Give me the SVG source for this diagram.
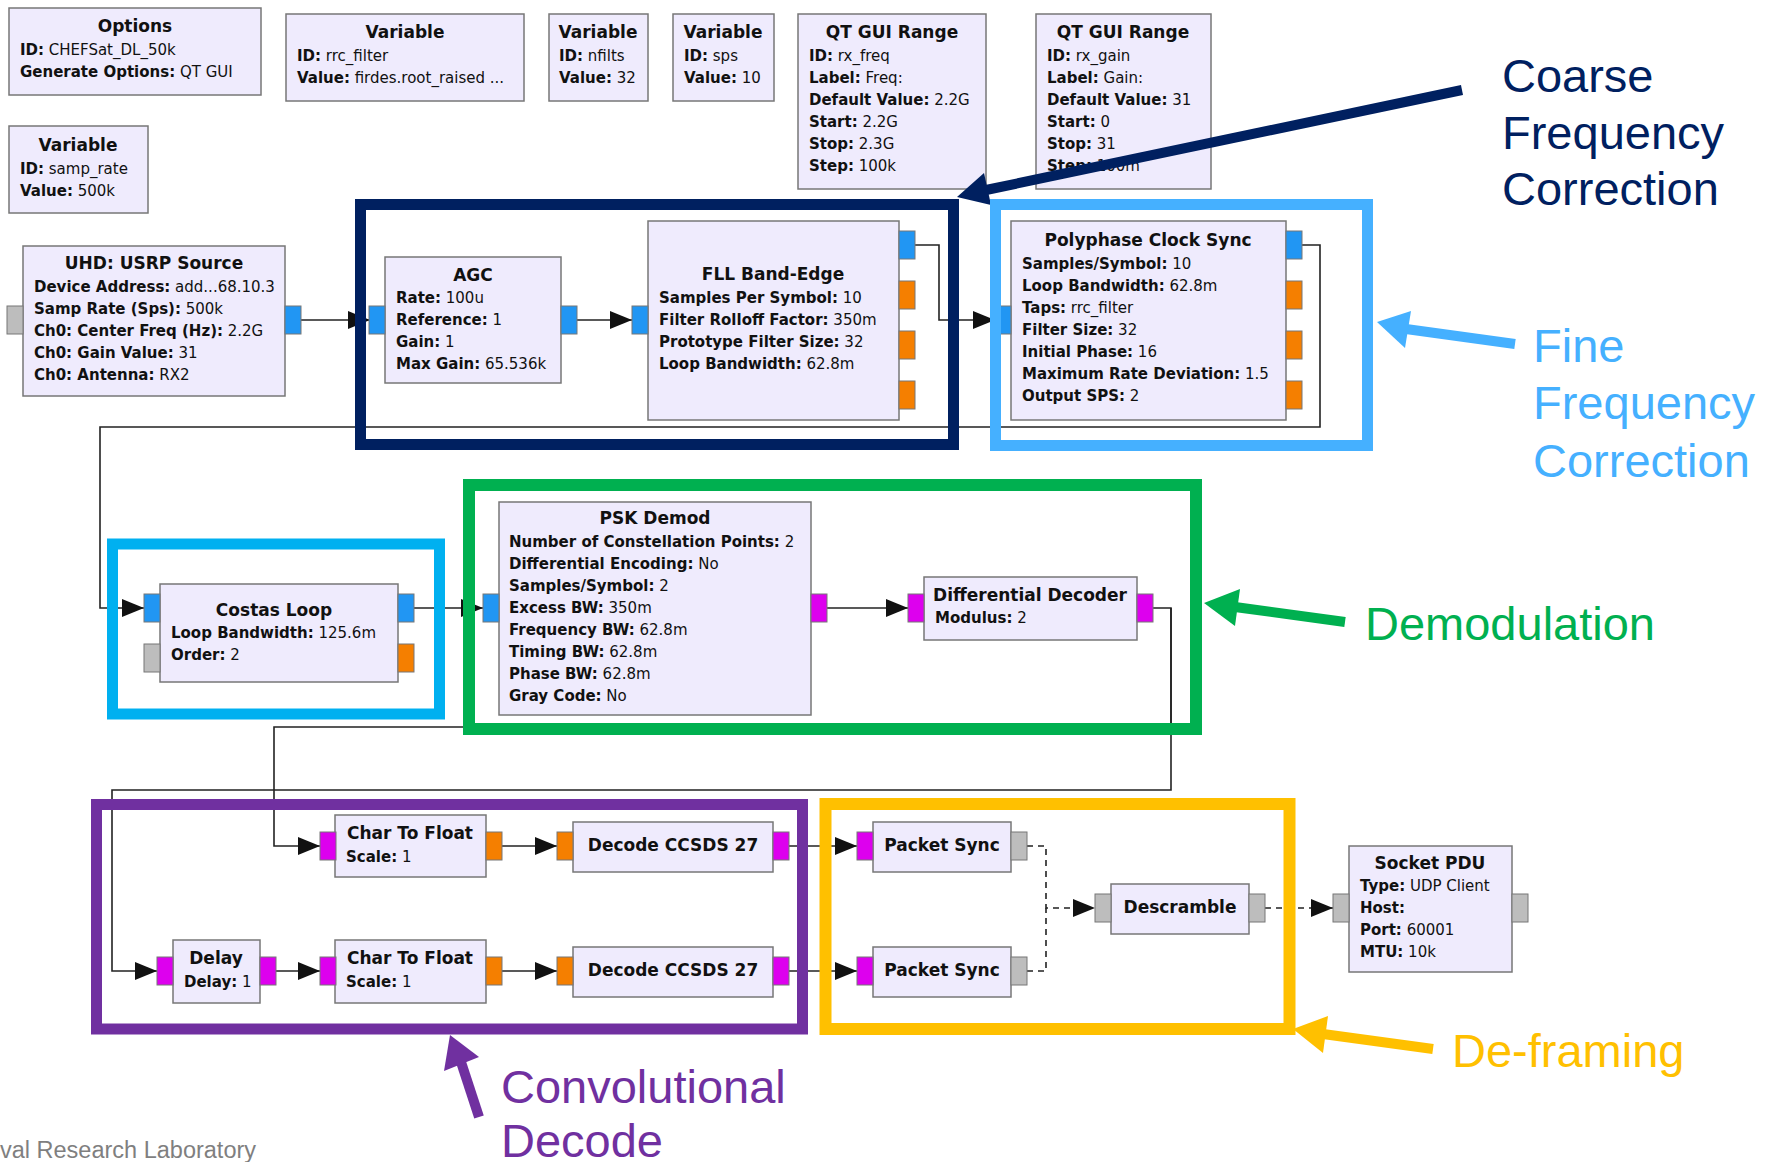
<svg xmlns="http://www.w3.org/2000/svg" width="1777" height="1162" viewBox="0 0 1777 1162">
<style>
.blk{fill:#EFEBFD;stroke:#777;stroke-width:1.5}
.port{stroke:#777;stroke-width:1}
.pc{fill:#2196F3}.po{fill:#F57F00}.pm{fill:#DD00EE}.pg{fill:#BDBDBD}
.t{font-family:"DejaVu Sans",sans-serif;font-size:17px;font-weight:bold;text-anchor:middle;fill:#111}
.p{font-family:"DejaVu Sans",sans-serif;font-size:15px;fill:#111}
.b{font-weight:bold}
.wire{fill:none;stroke:#222;stroke-width:1.6}
.msg{stroke-dasharray:6 5}
.ann{fill:none}
.lbl{font-family:"Liberation Sans",Arial,sans-serif;font-size:47px}
</style>
<defs>
<marker id="ah" markerUnits="userSpaceOnUse" markerWidth="22" markerHeight="18" refX="22" refY="9" orient="auto">
<path d="M0,0 L22,9 L0,18 z" fill="#111"/>
</marker>
</defs>
<rect width="1777" height="1162" fill="#fff"/>

<g id="connectors">
<path class="wire" marker-end="url(#ah)" d="M301 320 H370"/>
<path class="wire" marker-end="url(#ah)" d="M577 320 H632"/>
<path class="wire" marker-end="url(#ah)" d="M915 245 H939 V320 H995"/>
<path class="wire" marker-end="url(#ah)" d="M1302 245 H1320 V427 H100 V608 H144"/>
<path class="wire" marker-end="url(#ah)" d="M414 608 H483"/>
<path class="wire" marker-end="url(#ah)" d="M827 608 H908"/>
<path class="wire" marker-end="url(#ah)" d="M1153 608 H1171 V727 H274 V846 H320"/>
<path class="wire" marker-end="url(#ah)" d="M1171 608 V790 H112 V971 H157"/>
<path class="wire" marker-end="url(#ah)" d="M276 971 H320"/>
<path class="wire" marker-end="url(#ah)" d="M502 846 H557"/>
<path class="wire" marker-end="url(#ah)" d="M502 971 H557"/>
<path class="wire" marker-end="url(#ah)" d="M789 846 H857"/>
<path class="wire" marker-end="url(#ah)" d="M789 971 H857"/>
<path class="wire msg" marker-end="url(#ah)" d="M1027 846 H1046 V908 H1095"/>
<path class="wire msg" d="M1027 971 H1046 V908"/>
<path class="wire msg" marker-end="url(#ah)" d="M1265 908 H1333"/>
</g>

<g id="options">
<rect class="blk" x="9" y="8" width="252" height="87"/>
<text class="t" x="135" y="32">Options</text>
<text class="p" x="20" y="55"><tspan class="b">ID:</tspan> CHEFSat_DL_50k</text>
<text class="p" x="20" y="77"><tspan class="b">Generate Options:</tspan> QT GUI</text>
</g>
<g id="var_rrc_filter">
<rect class="blk" x="286" y="14" width="238" height="87"/>
<text class="t" x="405" y="38">Variable</text>
<text class="p" x="297" y="61"><tspan class="b">ID:</tspan> rrc_filter</text>
<text class="p" x="297" y="83"><tspan class="b">Value:</tspan> firdes.root_raised ...</text>
</g>
<g id="var_nfilts">
<rect class="blk" x="549" y="14" width="99" height="87"/>
<text class="t" x="598" y="38">Variable</text>
<text class="p" x="559" y="61"><tspan class="b">ID:</tspan> nfilts</text>
<text class="p" x="559" y="83"><tspan class="b">Value:</tspan> 32</text>
</g>
<g id="var_sps">
<rect class="blk" x="673" y="14" width="101" height="87"/>
<text class="t" x="723" y="38">Variable</text>
<text class="p" x="684" y="61"><tspan class="b">ID:</tspan> sps</text>
<text class="p" x="684" y="83"><tspan class="b">Value:</tspan> 10</text>
</g>
<g id="range_rx_freq">
<rect class="blk" x="798" y="14" width="188" height="175"/>
<text class="t" x="892" y="38">QT GUI Range</text>
<text class="p" x="809" y="61"><tspan class="b">ID:</tspan> rx_freq</text>
<text class="p" x="809" y="83"><tspan class="b">Label:</tspan> Freq:</text>
<text class="p" x="809" y="105"><tspan class="b">Default Value:</tspan> 2.2G</text>
<text class="p" x="809" y="127"><tspan class="b">Start:</tspan> 2.2G</text>
<text class="p" x="809" y="149"><tspan class="b">Stop:</tspan> 2.3G</text>
<text class="p" x="809" y="171"><tspan class="b">Step:</tspan> 100k</text>
</g>
<g id="range_rx_gain">
<rect class="blk" x="1036" y="14" width="175" height="175"/>
<text class="t" x="1123" y="38">QT GUI Range</text>
<text class="p" x="1047" y="61"><tspan class="b">ID:</tspan> rx_gain</text>
<text class="p" x="1047" y="83"><tspan class="b">Label:</tspan> Gain:</text>
<text class="p" x="1047" y="105"><tspan class="b">Default Value:</tspan> 31</text>
<text class="p" x="1047" y="127"><tspan class="b">Start:</tspan> 0</text>
<text class="p" x="1047" y="149"><tspan class="b">Stop:</tspan> 31</text>
<text class="p" x="1047" y="171"><tspan class="b">Step:</tspan> 100m</text>
</g>
<g id="var_samp_rate">
<rect class="blk" x="9" y="126" width="139" height="87"/>
<text class="t" x="78" y="151">Variable</text>
<text class="p" x="20" y="174"><tspan class="b">ID:</tspan> samp_rate</text>
<text class="p" x="20" y="196"><tspan class="b">Value:</tspan> 500k</text>
</g>

<g id="uhd_source">
<rect class="blk" x="23" y="246" width="262" height="150"/>
<rect class="port pg" x="7" y="306" width="16" height="28"/>
<rect class="port pc" x="285" y="306" width="16" height="28"/>
<text class="t" x="154" y="269">UHD: USRP Source</text>
<text class="p" x="34" y="292"><tspan class="b">Device Address:</tspan> add...68.10.3</text>
<text class="p" x="34" y="314"><tspan class="b">Samp Rate (Sps):</tspan> 500k</text>
<text class="p" x="34" y="336"><tspan class="b">Ch0: Center Freq (Hz):</tspan> 2.2G</text>
<text class="p" x="34" y="358"><tspan class="b">Ch0: Gain Value:</tspan> 31</text>
<text class="p" x="34" y="380"><tspan class="b">Ch0: Antenna:</tspan> RX2</text>
</g>
<g id="agc">
<rect class="blk" x="385" y="257" width="176" height="126"/>
<rect class="port pc" x="369" y="306" width="16" height="28"/>
<rect class="port pc" x="561" y="306" width="16" height="28"/>
<text class="t" x="473" y="281">AGC</text>
<text class="p" x="396" y="303"><tspan class="b">Rate:</tspan> 100u</text>
<text class="p" x="396" y="325"><tspan class="b">Reference:</tspan> 1</text>
<text class="p" x="396" y="347"><tspan class="b">Gain:</tspan> 1</text>
<text class="p" x="396" y="369"><tspan class="b">Max Gain:</tspan> 65.536k</text>
</g>
<g id="fll_band_edge">
<rect class="blk" x="648" y="221" width="251" height="199"/>
<rect class="port pc" x="632" y="306" width="16" height="28"/>
<rect class="port pc" x="899" y="231" width="16" height="28"/>
<rect class="port po" x="899" y="281" width="16" height="28"/>
<rect class="port po" x="899" y="331" width="16" height="28"/>
<rect class="port po" x="899" y="381" width="16" height="28"/>
<text class="t" x="773" y="280">FLL Band-Edge</text>
<text class="p" x="659" y="303"><tspan class="b">Samples Per Symbol:</tspan> 10</text>
<text class="p" x="659" y="325"><tspan class="b">Filter Rolloff Factor:</tspan> 350m</text>
<text class="p" x="659" y="347"><tspan class="b">Prototype Filter Size:</tspan> 32</text>
<text class="p" x="659" y="369"><tspan class="b">Loop Bandwidth:</tspan> 62.8m</text>
</g>
<g id="polyphase_clock_sync">
<rect class="blk" x="1011" y="221" width="275" height="199"/>
<rect class="port pc" x="995" y="306" width="16" height="28"/>
<rect class="port pc" x="1286" y="231" width="16" height="28"/>
<rect class="port po" x="1286" y="281" width="16" height="28"/>
<rect class="port po" x="1286" y="331" width="16" height="28"/>
<rect class="port po" x="1286" y="381" width="16" height="28"/>
<text class="t" x="1148" y="246">Polyphase Clock Sync</text>
<text class="p" x="1022" y="269"><tspan class="b">Samples/Symbol:</tspan> 10</text>
<text class="p" x="1022" y="291"><tspan class="b">Loop Bandwidth:</tspan> 62.8m</text>
<text class="p" x="1022" y="313"><tspan class="b">Taps:</tspan> rrc_filter</text>
<text class="p" x="1022" y="335"><tspan class="b">Filter Size:</tspan> 32</text>
<text class="p" x="1022" y="357"><tspan class="b">Initial Phase:</tspan> 16</text>
<text class="p" x="1022" y="379"><tspan class="b">Maximum Rate Deviation:</tspan> 1.5</text>
<text class="p" x="1022" y="401"><tspan class="b">Output SPS:</tspan> 2</text>
</g>
<g id="costas_loop">
<rect class="blk" x="160" y="584" width="238" height="98"/>
<rect class="port pc" x="144" y="594" width="16" height="28"/>
<rect class="port pg" x="144" y="644" width="16" height="28"/>
<rect class="port pc" x="398" y="594" width="16" height="28"/>
<rect class="port po" x="398" y="644" width="16" height="28"/>
<text class="t" x="274" y="616">Costas Loop</text>
<text class="p" x="171" y="638"><tspan class="b">Loop Bandwidth:</tspan> 125.6m</text>
<text class="p" x="171" y="660"><tspan class="b">Order:</tspan> 2</text>
</g>
<g id="psk_demod">
<rect class="blk" x="499" y="502" width="312" height="213"/>
<rect class="port pc" x="483" y="594" width="16" height="28"/>
<rect class="port pm" x="811" y="594" width="16" height="28"/>
<text class="t" x="655" y="524">PSK Demod</text>
<text class="p" x="509" y="547"><tspan class="b">Number of Constellation Points:</tspan> 2</text>
<text class="p" x="509" y="569"><tspan class="b">Differential Encoding:</tspan> No</text>
<text class="p" x="509" y="591"><tspan class="b">Samples/Symbol:</tspan> 2</text>
<text class="p" x="509" y="613"><tspan class="b">Excess BW:</tspan> 350m</text>
<text class="p" x="509" y="635"><tspan class="b">Frequency BW:</tspan> 62.8m</text>
<text class="p" x="509" y="657"><tspan class="b">Timing BW:</tspan> 62.8m</text>
<text class="p" x="509" y="679"><tspan class="b">Phase BW:</tspan> 62.8m</text>
<text class="p" x="509" y="701"><tspan class="b">Gray Code:</tspan> No</text>
</g>
<g id="differential_decoder">
<rect class="blk" x="924" y="577" width="213" height="63"/>
<rect class="port pm" x="908" y="594" width="16" height="28"/>
<rect class="port pm" x="1137" y="594" width="16" height="28"/>
<text class="t" x="1030" y="601">Differential Decoder</text>
<text class="p" x="935" y="623"><tspan class="b">Modulus:</tspan> 2</text>
</g>
<g id="char_to_float_1">
<rect class="blk" x="335" y="815" width="151" height="62"/>
<rect class="port pm" x="320" y="832" width="16" height="28"/>
<rect class="port po" x="486" y="832" width="16" height="28"/>
<text class="t" x="410" y="839">Char To Float</text>
<text class="p" x="346" y="862"><tspan class="b">Scale:</tspan> 1</text>
</g>
<g id="decode_ccsds_1">
<rect class="blk" x="573" y="822" width="200" height="50"/>
<rect class="port po" x="557" y="832" width="16" height="28"/>
<rect class="port pm" x="773" y="832" width="16" height="28"/>
<text class="t" x="673" y="851">Decode CCSDS 27</text>
</g>
<g id="packet_sync_1">
<rect class="blk" x="873" y="822" width="138" height="50"/>
<rect class="port pm" x="857" y="832" width="16" height="28"/>
<rect class="port pg" x="1011" y="832" width="16" height="28"/>
<text class="t" x="942" y="851">Packet Sync</text>
</g>
<g id="delay">
<rect class="blk" x="173" y="940" width="87" height="63"/>
<rect class="port pm" x="157" y="957" width="16" height="28"/>
<rect class="port pm" x="260" y="957" width="16" height="28"/>
<text class="t" x="216" y="964">Delay</text>
<text class="p" x="184" y="987"><tspan class="b">Delay:</tspan> 1</text>
</g>
<g id="char_to_float_2">
<rect class="blk" x="335" y="940" width="151" height="63"/>
<rect class="port pm" x="320" y="957" width="16" height="28"/>
<rect class="port po" x="486" y="957" width="16" height="28"/>
<text class="t" x="410" y="964">Char To Float</text>
<text class="p" x="346" y="987"><tspan class="b">Scale:</tspan> 1</text>
</g>
<g id="decode_ccsds_2">
<rect class="blk" x="573" y="947" width="200" height="50"/>
<rect class="port po" x="557" y="957" width="16" height="28"/>
<rect class="port pm" x="773" y="957" width="16" height="28"/>
<text class="t" x="673" y="976">Decode CCSDS 27</text>
</g>
<g id="packet_sync_2">
<rect class="blk" x="873" y="947" width="138" height="50"/>
<rect class="port pm" x="857" y="957" width="16" height="28"/>
<rect class="port pg" x="1011" y="957" width="16" height="28"/>
<text class="t" x="942" y="976">Packet Sync</text>
</g>
<g id="descramble">
<rect class="blk" x="1111" y="884" width="138" height="50"/>
<rect class="port pg" x="1095" y="894" width="16" height="28"/>
<rect class="port pg" x="1249" y="894" width="16" height="28"/>
<text class="t" x="1180" y="913">Descramble</text>
</g>
<g id="socket_pdu">
<rect class="blk" x="1349" y="846" width="163" height="126"/>
<rect class="port pg" x="1333" y="894" width="16" height="28"/>
<rect class="port pg" x="1512" y="894" width="16" height="28"/>
<text class="t" x="1430" y="869">Socket PDU</text>
<text class="p" x="1360" y="891"><tspan class="b">Type:</tspan> UDP Client</text>
<text class="p" x="1360" y="913"><tspan class="b">Host:</tspan></text>
<text class="p" x="1360" y="935"><tspan class="b">Port:</tspan> 60001</text>
<text class="p" x="1360" y="957"><tspan class="b">MTU:</tspan> 10k</text>
</g>

<g id="annotation_coarse">
<rect class="ann" x="360.5" y="204.5" width="593" height="240" stroke="#002060" stroke-width="11"/>
<line x1="1462" y1="90" x2="986" y2="190" stroke="#002060" stroke-width="10"/>
<polygon points="957,197 991,205 984,173" fill="#002060"/>
<text class="lbl" fill="#002060"><tspan x="1502" y="92">Coarse</tspan><tspan x="1502" y="149">Frequency</tspan><tspan x="1502" y="205">Correction</tspan></text>
</g>
<g id="annotation_fine">
<rect class="ann" x="995.5" y="204.5" width="372" height="241" stroke="#45B0FF" stroke-width="11"/>
<line x1="1515" y1="344" x2="1406" y2="329" stroke="#45B0FF" stroke-width="10"/>
<polygon points="1377,322 1411,311 1405,348" fill="#45B0FF"/>
<text class="lbl" fill="#45B0FF"><tspan x="1533" y="362">Fine</tspan><tspan x="1533" y="419">Frequency</tspan><tspan x="1533" y="477">Correction</tspan></text>
</g>
<g id="annotation_costas">
<rect class="ann" x="112.5" y="544" width="327" height="170" stroke="#00B0F0" stroke-width="11"/>
</g>
<g id="annotation_demod">
<rect class="ann" x="469" y="485" width="727" height="244" stroke="#00B050" stroke-width="12"/>
<line x1="1345" y1="622" x2="1235" y2="607" stroke="#00B050" stroke-width="10"/>
<polygon points="1204,603 1240,589 1235,626" fill="#00B050"/>
<text class="lbl" fill="#00B050" x="1365" y="640">Demodulation</text>
</g>
<g id="annotation_conv">
<rect class="ann" x="96.5" y="804.5" width="706" height="224.5" stroke="#7030A0" stroke-width="11"/>
<line x1="479" y1="1117" x2="461" y2="1062" stroke="#7030A0" stroke-width="10"/>
<polygon points="450,1035 479,1057 444,1071" fill="#7030A0"/>
<text class="lbl" fill="#7030A0"><tspan x="501" y="1103">Convolutional</tspan><tspan x="501" y="1157">Decode</tspan></text>
</g>
<g id="annotation_deframing">
<rect class="ann" x="825.5" y="804" width="464" height="225" stroke="#FFC000" stroke-width="12"/>
<line x1="1433" y1="1049" x2="1323" y2="1034" stroke="#FFC000" stroke-width="10"/>
<polygon points="1293,1029 1328,1016 1323,1053" fill="#FFC000"/>
<text class="lbl" fill="#FFC000" x="1452" y="1067">De-framing</text>
</g>
<text id="footer" x="0" y="1158" font-family="Liberation Sans, Arial, sans-serif" font-size="23.5" fill="#7F7F7F">val Research Laboratory</text>
</svg>
